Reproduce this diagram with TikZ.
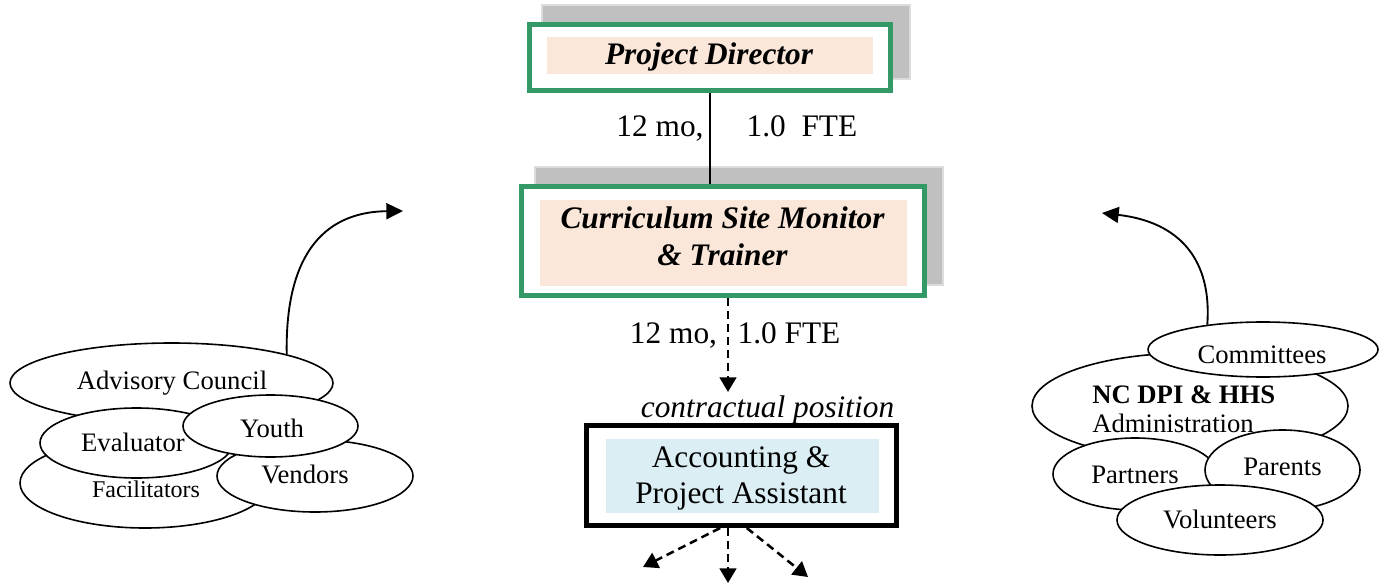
\documentclass[tikz,border=0pt]{standalone}
\usepackage{fontspec}
\setmainfont{Liberation Serif}
\usetikzlibrary{shapes.geometric,arrows.meta}
\definecolor{boxgreen}{HTML}{339966}
\definecolor{peach}{HTML}{FBE7D9}
\definecolor{paleblue}{HTML}{DAEEF3}
\definecolor{shade}{HTML}{C0C0C0}
\definecolor{shadeedge}{HTML}{DCDCDC}
\begin{document}
\begin{tikzpicture}[x=0.75pt,y=-0.75pt,
  shadowbox/.style={draw=shadeedge, line width=1.5pt, fill=shade, inner sep=0pt},
  greenbox/.style={draw=boxgreen, line width=3.75pt, fill=white, inner sep=0pt},
  blackbox/.style={draw=black, line width=3.75pt, fill=white, inner sep=0pt},
  peachfill/.style={fill=peach, inner sep=0pt},
  bluefill/.style={fill=paleblue, inner sep=0pt},
  oval/.style={ellipse, draw=black, fill=white, line width=1.2pt, inner sep=0pt},
  lbl/.style={anchor=base, inner sep=0pt},
  big/.style={font=\fontsize{23.5}{28}\selectfont},
  mid/.style={font=\fontsize{20}{24}\selectfont},
  small/.style={font=\fontsize{18}{22}\selectfont},
  dashlink/.style={-{Triangle[length=11pt,width=12.5pt]}, line width=1.9pt, dash pattern=on 6pt off 3.75pt},
  curvelink/.style={-{Triangle[length=12.5pt,width=12pt]}, line width=1.4pt}
]
\useasboundingbox (0,0) rectangle (1387,588);

% Project Director
\node[shadowbox, minimum width=368*0.75pt, minimum height=74*0.75pt] (pdshadow) at (726,42) {};
\node[greenbox, minimum width=361*0.75pt, minimum height=66*0.75pt] (pdbox) at (710,57.5) {};
\node[peachfill, minimum width=326*0.75pt, minimum height=37*0.75pt] (pdfill) at (710,55.5) {};
\node[lbl, big] (pdtext) at (709,65) {\bfseries\itshape Project Director};

% Curriculum Site Monitor & Trainer
\node[shadowbox, minimum width=408*0.75pt, minimum height=118*0.75pt] (csmshadow) at (739,226) {};
\node[greenbox, minimum width=403*0.75pt, minimum height=109*0.75pt] (csmbox) at (723,241) {};
\node[peachfill, minimum width=367*0.75pt, minimum height=86*0.75pt] (csmfill) at (723.5,243) {};
\node[lbl, big] (csmtextA) at (722.5,228) {\bfseries\itshape Curriculum Site Monitor};
\node[lbl, big] (csmtextB) at (722.5,265) {\bfseries\itshape \& Trainer};

% link between the two positions
\draw[line width=1.1pt] (pdbox.south) -- (pdbox.south |- csmbox.north);
\node[lbl, big] (ftA1) at (660,137) {12 mo,};
\node[lbl, big] (ftA2) at (802,137) {1.0\ \ FTE};

% contractual position
\coordinate (accIn) at (728,392);
\draw[dashlink] (csmbox.south -| accIn) -- (accIn);
\node[lbl, big] (ftB1) at (673.5,343) {12 mo,};
\node[lbl, big] (ftB2) at (789,343) {1.0 FTE};
\node[lbl, big] (contract) at (767.5,417) {\itshape contractual position};

\node[blackbox, minimum width=310*0.75pt, minimum height=100*0.75pt] (acc) at (741.5,475.5) {};
\node[bluefill, minimum width=273*0.75pt, minimum height=74*0.75pt] (accfill) at (742.5,476) {};
\node[lbl, big] (acctextA) at (741,467) {Accounting \&};
\node[lbl, big] (acctextB) at (741,503) {Project Assistant};

\coordinate (outL) at (643,567);
\coordinate (outD) at (728,583);
\coordinate (outR) at (808,577);
\draw[dashlink] ([xshift=-16pt]acc.south) -- (outL);
\draw[dashlink] (acc.south -| outD) -- (outD);
\draw[dashlink] ([xshift=4pt]acc.south) -- (outR);

% left cluster
\node[oval, minimum width=323*0.75pt, minimum height=80*0.75pt] (adv) at (171.5,383) {};
\node[lbl, mid] (advT) at (172,389) {Advisory Council};
\node[oval, minimum width=250*0.75pt, minimum height=90*0.75pt] (fac) at (145,483) {};
\node[lbl, small] (facT) at (146,497) {Facilitators};
\node[oval, minimum width=193*0.75pt, minimum height=70*0.75pt] (eva) at (136.5,443) {};
\node[lbl, mid] (evaT) at (133,451) {Evaluator};
\node[oval, minimum width=196*0.75pt, minimum height=72*0.75pt] (ven) at (315,476) {};
\node[lbl, mid] (venT) at (305,483) {Vendors};
\node[oval, minimum width=175*0.75pt, minimum height=62*0.75pt] (you) at (270.5,426) {};
\node[lbl, mid] (youT) at (272,437) {Youth};

\coordinate (advTip) at (403,211);
\draw[curvelink] (adv.14) .. controls (285,260) and (320,212) .. (advTip);

% right cluster
\node[oval, minimum width=316*0.75pt, minimum height=106*0.75pt] (nc) at (1190,406) {};
\node[anchor=base west, inner sep=0pt, mid] (ncT) at (1092,403) {\bfseries NC DPI \& HHS};
\node[anchor=base west, inner sep=0pt, mid] (ncT2) at (1092,432) {Administration};
\node[oval, minimum width=230*0.75pt, minimum height=55*0.75pt] (com) at (1263,349.5) {};
\node[lbl, mid] (comT) at (1262,363) {Committees};
\node[oval, minimum width=164*0.75pt, minimum height=72*0.75pt] (part) at (1135,474) {};
\node[lbl, mid] (partT) at (1135,483) {Partners};
\node[oval, minimum width=155*0.75pt, minimum height=80*0.75pt] (par) at (1282.5,470) {};
\node[lbl, mid] (parT) at (1282.5,475) {Parents};
\node[oval, minimum width=206*0.75pt, minimum height=70*0.75pt] (vol) at (1220,520) {};
\node[lbl, mid] (volT) at (1220,528) {Volunteers};

\coordinate (comTip) at (1102,213);
\draw[curvelink] (com.156) .. controls (1212,260) and (1180,222) .. (comTip);
\end{tikzpicture}
\end{document}
